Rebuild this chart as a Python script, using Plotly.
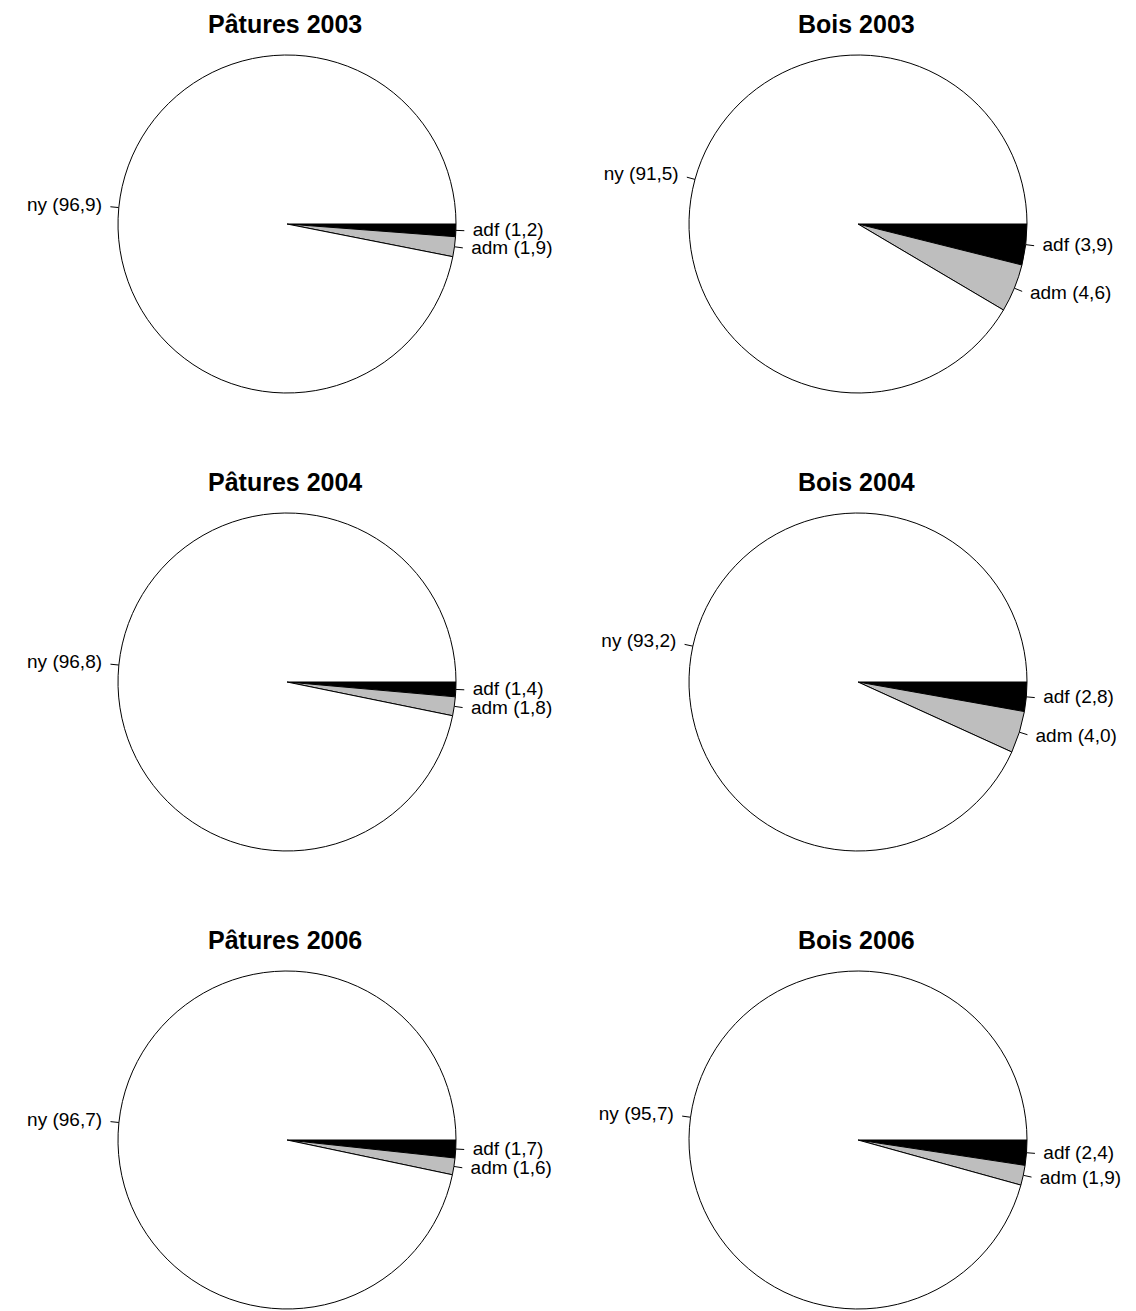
import math
import plotly.graph_objects as go

# ---- data ----
categories = ["adf", "adm", "ny"]
titles = ["Pâtures 2003", "Bois 2003", "Pâtures 2004", "Bois 2004", "Pâtures 2006", "Bois 2006"]
adf = [1.2, 3.9, 1.4, 2.8, 1.7, 2.4]
adm = [1.9, 4.6, 1.8, 4.0, 1.6, 1.9]
ny = [96.9, 91.5, 96.8, 93.2, 96.7, 95.7]
slice_colors = ["#000000", "#BEBEBE", "#FFFFFF"]

# ---- layout geometry (pixels) ----
W, H = 1136, 1311
col_cx = [287, 858]
row_cy = [224, 682, 1140]
R = 169
title_dy = 200  # title centre above pie centre
LABEL_FONT = dict(family="Liberation Sans, Arial, sans-serif", size=19, color="black")
TITLE_FONT = dict(family="Liberation Sans, Arial, sans-serif", size=25, color="black")


def fmt(v):
    return f"{v:.1f}".replace(".", ",")


fig = go.Figure()
annotations = []
line_x, line_y = [], []
txt_r = dict(x=[], y=[], t=[])
txt_l = dict(x=[], y=[], t=[])

for i, title in enumerate(titles):
    row, col = divmod(i, 2)
    cx, cy = col_cx[col], row_cy[row]
    vals = [adf[i], adm[i], ny[i]]
    fig.add_trace(go.Pie(
        values=vals, labels=categories, sort=False, direction="clockwise",
        rotation=90, textinfo="none", hoverinfo="label+value", showlegend=False,
        marker=dict(colors=slice_colors, line=dict(color="black", width=1)),
        domain=dict(x=[(cx - R) / W, (cx + R) / W],
                    y=[1 - (cy + R) / H, 1 - (cy - R) / H]),
    ))
    total = sum(vals)
    cum = 0.0
    for name, v in zip(categories, vals):
        mid = (cum + v / 2) / total
        cum += v
        th = 2 * math.pi * mid
        c, s = math.cos(th), math.sin(th)
        line_x += [cx + R * c, cx + 1.05 * R * c, None]
        line_y += [cy + R * s, cy + 1.05 * R * s, None]
        tx, ty = cx + 1.1 * R * c, cy + 1.1 * R * s
        tgt = txt_r if c > 0 else txt_l
        tgt["x"].append(tx)
        tgt["y"].append(ty)
        tgt["t"].append(f"{name} ({fmt(v)})")
    annotations.append(dict(x=cx - 2, y=cy - title_dy, xref="x", yref="y",
                            text=f"<b>{title}</b>", showarrow=False,
                            font=TITLE_FONT, xanchor="center", yanchor="middle"))

fig.add_trace(go.Scatter(x=line_x, y=line_y, mode="lines",
                         line=dict(color="black", width=1), hoverinfo="skip",
                         showlegend=False))
fig.add_trace(go.Scatter(x=txt_r["x"], y=txt_r["y"], text=txt_r["t"], mode="text",
                         textposition="middle right", textfont=LABEL_FONT,
                         hoverinfo="skip", showlegend=False))
fig.add_trace(go.Scatter(x=txt_l["x"], y=txt_l["y"], text=txt_l["t"], mode="text",
                         textposition="middle left", textfont=LABEL_FONT,
                         hoverinfo="skip", showlegend=False))

fig.update_layout(
    width=W, height=H, margin=dict(l=0, r=0, t=0, b=0),
    paper_bgcolor="white", plot_bgcolor="rgba(0,0,0,0)",
    xaxis=dict(range=[0, W], visible=False, domain=[0, 1], fixedrange=True),
    yaxis=dict(range=[H, 0], visible=False, domain=[0, 1], fixedrange=True),
    annotations=annotations,
)

fig.write_html("out.html", config=dict(displayModeBar=False),
               post_script="document.body.style.margin='0';document.body.style.overflow='hidden';")
